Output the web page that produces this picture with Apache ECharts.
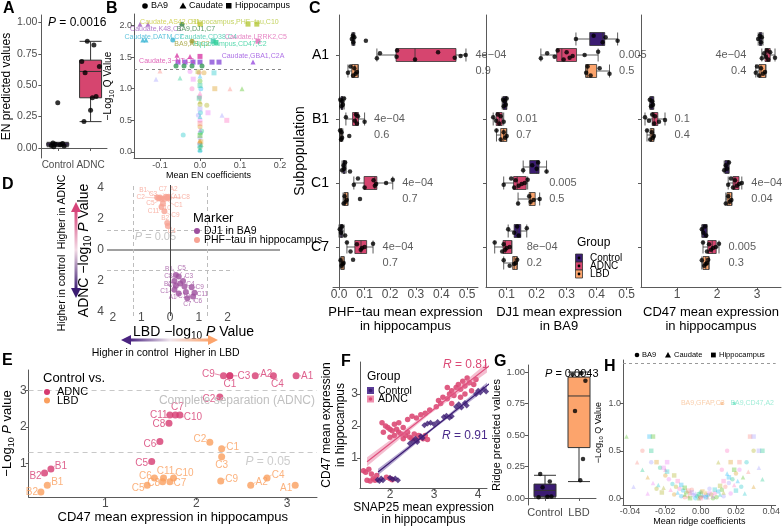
<!DOCTYPE html>
<html><head><meta charset="utf-8">
<script src="https://cdn.jsdelivr.net/npm/echarts@6.0.0/dist/echarts.min.js"></script>
<style>html,body{margin:0;padding:0;background:#fff;}#c{width:783px;height:527px;}</style>
</head><body><div id="c"></div>
<script>
// ================= DATA =================
// Panel A
const aCats = ['Control', 'ADNC'];
const aControlBox = [0.01, 0.018, 0.03, 0.04, 0.045];
const aAdncBox = [0.21, 0.40, 0.61, 0.70, 0.85];
const aControlPts = [0.36, 0.04, 0.035, 0.03, 0.025, 0.02, 0.015, 0.01];
const aAdncPts = [0.85, 0.82, 0.69, 0.65, 0.60, 0.41, 0.40, 0.30, 0.21];
const aPText = '0.0016';

// Panel B (labelled points above threshold)
const bTopTissue = ['Caudate','Caudate','BA9','Hippocampus','Hippocampus','Hippocampus','Caudate','Caudate','BA9','Hippocampus','Hippocampus','BA9','Hippocampus','Caudate','Caudate','Hippocampus','Caudate','Hippocampus','Hippocampus','Hippocampus','Hippocampus','Hippocampus','Hippocampus','BA9','BA9','BA9','BA9'];
const bTopX = [-0.150,-0.130,-0.045,0.000,0.120,0.142,-0.143,-0.135,-0.068,0.033,0.145,-0.020,0.040,-0.0575,-0.025,0.000,0.1325,-0.055,-0.0375,-0.0175,0.000,0.030,0.0475,-0.060,-0.040,-0.020,0.005];
const bTopY = [2.02,2.02,2.02,2.02,2.02,2.02,1.77,1.77,1.77,1.75,1.75,1.75,1.73,1.53,1.51,1.51,1.42,1.42,1.42,1.42,1.42,1.42,1.42,1.36,1.36,1.36,1.36];
const bTopLabel = ['Caudate,K48,C1','Caudate,AS42,C11','BA9,DJ1,C7','','Hippocampus,PHF\u2212tau,C10','','Caudate,DATM,C7','','','Caudate,CD38,C4','Caudate,LRRK2,C5','BA9,AS,C2','Hippocampus,CD47,C2','Caudate,3\u2212NT,C1','','','Caudate,GBA1,C2A','','','','','','','','','',''];
// Panel B (faint cloud)
const bCloudBA9 = [[-0.002,1.25],[0.0,1.12],[0.002,1.0],[-0.001,0.87],[0.0,0.75],[0.001,0.62],[0.0,0.5],[0.0,0.4],[0.001,0.3],[0.0,0.22],[-0.001,0.14],[0.0,0.07],[0.0,0.02],[-0.02,1.0],[0.017,0.74],[-0.042,0.27],[-0.025,1.27],[0.01,1.25],[0.004,0.33],[-0.004,0.58]];
const bCloudCaudate = [[-0.05,1.17],[-0.11,1.15],[0.075,1.0],[0.105,1.0],[0.0,1.2],[0.0,0.93],[0.0,0.8],[0.0,0.56],[0.0,0.35],[0.0,0.18],[0.0,0.04],[0.055,0.58],[-0.1,1.28],[0.003,0.12]];
const bCloudHippo = [[-0.017,1.15],[0.037,1.0],[0.0,1.05],[0.0,0.68],[0.0,0.45],[0.0,0.26],[0.0,0.1],[0.067,0.5],[-0.005,1.27],[0.035,1.25],[0.02,0.62],[0.002,0.16],[-0.002,0.85]];
const bThreshold = 1.3;

// Panel C
const cSubpops = ['A1','B1','C1','C7'];
const cGroups = ['Control','ADNC','LBD'];
// PHF-tau in hippocampus
const phfControlBox = [[0.05,0.053,0.056,0.06,0.062],[0.002,0.008,0.012,0.015,0.02],[0.012,0.016,0.02,0.024,0.028],[0.0,0.005,0.01,0.014,0.02]];
const phfAdncBox = [[0.148,0.223,0.297,0.457,0.496],[0.027,0.053,0.065,0.076,0.1],[0.058,0.098,0.14,0.148,0.21],[0.031,0.062,0.086,0.108,0.133]];
const phfLbdBox = [[0.035,0.05,0.062,0.075,0.075],[0.002,0.006,0.01,0.012,0.015],[0.016,0.02,0.025,0.035,0.035],[0.005,0.008,0.012,0.02,0.02]];
const phfControlPts = [[0.05,0.054,0.056,0.06,0.105],[0.005,0.01,0.012,0.015,0.02],[0.012,0.018,0.02,0.024,0.043],[0.003,0.008,0.012,0.024]];
const phfAdncPts = [[0.148,0.16,0.225,0.227,0.297,0.387,0.452,0.475,0.495],[0.027,0.062,0.066,0.07,0.074,0.1],[0.058,0.074,0.1,0.135,0.14,0.145,0.184,0.21],[0.031,0.045,0.07,0.085,0.09,0.1,0.133]];
const phfLbdPts = [[0.035,0.045,0.055,0.06,0.065,0.07],[0.004,0.008,0.01,0.012,0.04],[0.018,0.022,0.026,0.03,0.082],[0.006,0.01,0.014,0.018,0.055]];
const phfPAdnc = ['4e\u221204','4e\u221204','4e\u221204','4e\u221204'];
const phfPLbd = ['0.9','0.6','0.7','0.7'];
// DJ1 in BA9
const dj1ControlBox = [[0.331,0.377,0.42,0.427,0.47],[0.085,0.088,0.093,0.1,0.1],[0.155,0.177,0.2,0.208,0.233],[0.105,0.125,0.135,0.147,0.167]];
const dj1AdncBox = [[0.214,0.267,0.284,0.333,0.405],[0.055,0.065,0.075,0.085,0.09],[0.09,0.123,0.135,0.165,0.17],[0.06,0.088,0.095,0.117,0.117]];
const dj1LbdBox = [[0.364,0.364,0.37,0.4,0.443],[0.066,0.08,0.09,0.1,0.1],[0.138,0.175,0.18,0.195,0.21],[0.09,0.12,0.125,0.135,0.135]];
const dj1ControlPts = [[0.331,0.39,0.42,0.43,0.47],[0.088,0.09,0.093,0.097,0.1],[0.155,0.185,0.2,0.205,0.233],[0.105,0.125,0.135,0.14,0.167]];
const dj1AdncPts = [[0.214,0.235,0.26,0.27,0.29,0.3,0.31,0.32,0.36,0.405],[0.055,0.065,0.07,0.075,0.08,0.09],[0.09,0.115,0.125,0.13,0.14,0.15,0.16,0.17],[0.06,0.085,0.09,0.095,0.1,0.11]];
const dj1LbdPts = [[0.365,0.37,0.38,0.41,0.443],[0.066,0.08,0.09,0.095,0.1],[0.138,0.175,0.18,0.19,0.21],[0.09,0.11,0.125,0.13,0.135]];
const dj1PAdnc = ['0.005','0.01','0.005','8e\u221204'];
const dj1PLbd = ['0.5','0.7','0.5','0.2'];
// CD47 in hippocampus
const cd47ControlBox = [[3.03,3.06,3.08,3.12,3.15],[0.32,0.33,0.37,0.41,0.42],[2.18,2.2,2.25,2.3,2.3],[1.62,1.63,1.68,1.75,1.75]];
const cd47AdncBox = [[3.12,3.2,3.25,3.33,3.45],[0.2,0.38,0.43,0.52,0.7],[2.28,2.4,2.45,2.55,2.62],[1.65,1.77,1.88,1.98,2.05]];
const cd47LbdBox = [[2.97,3.05,3.1,3.22,3.22],[0.25,0.33,0.37,0.42,0.42],[2.22,2.25,2.3,2.37,2.37],[1.62,1.65,1.72,1.8,1.8]];
const cd47ControlPts = [[3.03,3.07,3.1,3.12],[0.32,0.35,0.38,0.4],[2.18,2.22,2.25,2.3],[1.62,1.66,1.7,1.73]];
const cd47AdncPts = [[3.12,3.18,3.22,3.25,3.28,3.33,3.45],[0.2,0.3,0.38,0.43,0.45,0.55,0.7],[2.28,2.35,2.4,2.45,2.5,2.55,2.62],[1.65,1.75,1.8,1.85,1.9,1.97,2.05]];
const cd47LbdPts = [[2.97,3.0,3.05,3.1,3.15,3.2],[0.25,0.33,0.37,0.4,0.42],[2.22,2.28,2.32,2.36],[1.62,1.68,1.72,1.75,1.78]];
const cd47PAdnc = ['4e\u221204','0.1','4e\u221204','0.005'];
const cd47PLbd = ['0.4','0.4','0.04','0.3'];

// Panel D (x: LBD signed -log10 P, y: ADNC signed -log10 P)
const dPhfNames = ['B1','C3','C2','C5','C11','C7','A2','A1','C8','C1','C10','C9','B2','C4'];
const dPhfX = [-0.45,-0.35,-0.4,-0.3,-0.3,-0.15,-0.05,-0.1,-0.05,-0.2,-0.25,-0.2,-0.1,-0.08];
const dPhfY = [3.4,3.4,3.35,3.3,2.8,3.45,3.45,3.4,3.35,3.3,3.0,2.5,1.75,1.55];
const dDj1Names = ['B1','C5','C8','C3','C2','B2','C4','C9','C1','C11','C10','A1','C7','C6'];
const dDj1X = [0.2,0.3,0.15,0.45,0.35,0.2,0.5,0.75,0.15,0.85,0.55,0.3,0.6,0.8];
const dDj1Y = [-1.6,-1.7,-2.0,-2.0,-2.15,-2.3,-2.35,-2.4,-2.55,-2.75,-2.7,-2.8,-3.1,-3.0];
const dThreshold = 1.3;

// Panel E
const eAdncNames = ['C9','C1','C3','A2','C4','A1','C2','C7','C11','C10','C8','C6','C5','B1','B2'];
const eAdncX = [2.3,2.37,2.37,2.65,2.85,3.1,2.26,1.77,1.71,1.82,1.7,1.6,1.51,0.4,0.33];
const eAdncY = [3.4,3.4,3.4,3.4,3.4,3.4,2.82,2.33,2.33,2.33,2.1,1.6,1.05,0.85,0.74];
const eLbdNames = ['C2','C1','C3','C9','C4','A2','A1','C6','C11','C10','C8','C7','C5','B1','B2'];
const eLbdX = [2.15,2.28,2.28,2.27,2.78,2.6,3.09,1.54,1.64,1.75,1.63,1.71,1.46,0.36,0.29];
const eLbdY = [1.58,1.4,1.18,0.52,0.6,0.4,0.4,0.6,0.6,0.6,0.5,0.5,0.4,0.4,0.22];
const eCompleteSep = 3.0;
const eThreshold = 1.3;

// Panel F
const fControl = [[1.72,0.32],[1.76,0.28],[1.8,0.36],[1.84,0.3],[2.0,0.38],[2.06,0.33],[2.12,0.36],[2.18,0.3],[2.45,1.45],[2.52,1.52],[2.58,1.6],[2.62,1.5],[2.7,1.68],[2.74,1.62],[2.78,2.02],[2.85,2.08],[2.92,2.1],[3.0,2.05],[3.08,2.12],[3.22,2.28],[3.28,2.32],[3.35,2.26],[3.4,2.3],[3.5,2.6],[3.56,2.68],[3.62,2.58],[3.7,2.72],[3.74,2.64],[3.95,3.0],[4.0,3.1],[4.05,3.05],[4.12,3.15],[4.18,3.08]];
const fAdnc = [[1.4,0.6],[1.45,0.55],[1.52,0.65],[1.58,0.5],[1.62,0.35],[1.66,0.3],[1.55,0.28],[1.7,0.45],[1.48,0.3],[2.0,0.36],[2.05,0.32],[1.92,0.4],[1.82,2.1],[1.9,2.0],[1.95,1.95],[2.0,1.9],[2.05,1.85],[2.1,2.05],[2.15,1.9],[2.2,1.8],[2.25,1.75],[2.3,1.95],[2.35,1.7],[2.4,1.8],[2.45,1.65],[2.5,1.6],[2.55,1.75],[2.6,1.55],[2.65,1.7],[2.7,1.65],[2.75,1.6],[2.8,1.7],[2.85,1.58],[2.2,2.1],[2.4,2.2],[2.5,2.3],[2.6,2.25],[2.7,2.35],[2.8,2.4],[2.9,2.5],[1.85,1.8],[2.0,1.65],[2.1,1.7],[2.3,1.6],[3.05,2.6],[3.1,2.8],[3.15,2.7],[3.2,2.9],[3.3,2.85],[3.35,3.0],[3.4,3.1],[3.45,2.95],[3.5,3.2],[3.55,3.3],[3.6,3.15],[3.65,3.4],[3.7,3.25],[3.75,3.5],[3.8,3.35],[3.85,3.1],[3.9,3.3],[3.95,3.45],[3.3,3.2],[3.4,2.7],[3.6,2.9],[3.7,3.0]];
const fAdncFitX = [1.48, 2.9, 4.27];
const fAdncFit = [0.88, 2.42, 3.9];
const fAdncLo = [0.74, 2.37, 3.74];
const fAdncHi = [1.02, 2.47, 4.06];
const fCtrlFitX = [1.73, 3.0, 4.27];
const fCtrlFit = [0.56, 1.95, 3.34];
const fCtrlLo = [0.46, 1.91, 3.24];
const fCtrlHi = [0.66, 1.99, 3.44];
const fRAdnc = '0.81';
const fRCtrl = '0.91';

// Panel G
const gCats = ['Control', 'LBD'];
const gControlBox = [0.0, 0.01, 0.06, 0.11, 0.18];
const gLbdBox = [0.13, 0.40, 0.81, 0.96, 1.0];
const gControlPts = [0.19, 0.13, 0.085, 0.01, 0.005, 0.012];
const gLbdPts = [0.99, 0.98, 0.93, 0.69, 0.31, 0.14];
const gPText = '0.0043';

// Panel H
const hBA9 = [[-0.033,0.5],[-0.028,0.38],[-0.023,0.32],[-0.02,0.24],[-0.018,0.2],[-0.016,0.15],[-0.014,0.12],[-0.012,0.1],[-0.01,0.08],[-0.008,0.06],[-0.006,0.05],[-0.004,0.03],[-0.002,0.02],[0.0,0.01],[0.002,0.02],[0.004,0.03],[0.006,0.04],[0.008,0.05],[0.01,0.07],[0.012,0.09],[0.014,0.12],[0.016,0.16],[0.018,0.2],[0.02,0.26],[0.022,0.3],[0.026,0.38],[0.03,0.5],[0.015,0.5],[-0.011,0.02],[0.009,0.01],[-0.005,0.09],[0.005,0.1],[0.0,0.06],[-0.015,0.04],[0.017,0.05],[0.023,0.12],[-0.025,0.1],[0.012,0.3],[-0.003,0.0],[0.007,0.0],[-0.009,0.01],[0.013,0.02]];
const hCaudate = [[-0.042,0.65],[-0.036,0.38],[-0.038,0.12],[-0.033,0.3],[-0.03,0.22],[-0.027,0.16],[-0.024,0.14],[-0.021,0.11],[-0.017,0.09],[-0.013,0.06],[-0.009,0.04],[-0.007,0.02],[-0.003,0.05],[0.001,0.03],[0.003,0.06],[0.007,0.02],[0.011,0.04],[0.013,0.06],[0.019,0.14],[0.021,0.18],[0.024,0.22],[0.027,0.28],[0.033,0.32],[0.035,0.2],[0.03,0.12],[-0.03,0.05],[0.025,0.05],[0.01,0.38],[-0.02,0.3],[0.015,0.26],[-0.001,0.0],[0.004,0.01]];
const hHippo = [[-0.029,0.65],[-0.027,0.65],[0.028,0.65],[0.03,0.65],[-0.028,0.5],[-0.025,0.38],[-0.021,0.32],[-0.019,0.28],[-0.015,0.24],[-0.013,0.18],[-0.011,0.14],[-0.009,0.11],[-0.007,0.08],[-0.005,0.06],[-0.001,0.04],[0.001,0.07],[0.005,0.05],[0.008,0.09],[0.011,0.13],[0.013,0.18],[0.016,0.22],[0.019,0.3],[0.022,0.38],[0.033,0.5],[0.035,0.5],[0.017,0.38],[-0.019,0.38],[0.02,0.08],[-0.022,0.06],[0.0,0.0],[0.003,0.01],[-0.006,0.0]];
const hLabNames = ['BA9,GFAP,C3', 'BA9,CD47,A2'];
const hLabX = [0.012, 0.019];
const hLabY = [1.0, 1.0];
const hThreshold = 1.42;

// ================= STYLE =================
const FF = "'Liberation Sans', Arial, Helvetica, sans-serif";
const C_CTRL = '#3b1c72', C_ADNC = '#d6456f', C_LBD = '#fca46c';
const AXC = '#5a5a5a', TXC = '#4d4d4d';
const CLEAR = 'rgba(0,0,0,0)';
const PAL = ['#f8766d','#d89000','#a3a500','#39b600','#00bf7d','#00bfc4','#00b0f6','#9590ff','#e76bf3','#ff62bc'];
const JIT = [0,-3,3,-1.5,1.5,-4,4,-2.5,2.5,0.8];
const SYM = {BA9:'circle', Caudate:'triangle', Hippocampus:'rect'};
const bTopPtColor = ['#a25bbf','#a25bbf','#2f7f3f','#c7c93c','#b5c83a','#b5c83a','#36b4d3','#36b4d3','#36b4d3','#3cc9ad','#e066b5','#9c9a2a','#2fcf9a','#d83ca6','#d83ca6','#d83ca6','#9a4ee0','#9a4ee0','#8a4fd8','#8a4fd8','#8a4fd8','#8a4fd8','#8a4fd8','#3a9a5a','#3a9a5a','#3a9a5a','#3a9a5a'];
const bTopLabColor = {0:'#a25bbf',1:'#c9c93a',2:'#2f7f3f',4:'#b5c83a',6:'#36b4d3',9:'#3cc9ad',10:'#e066b5',11:'#9c9a2a',12:'#2fcf9a',13:'#d83ca6',16:'#9a4ee0'};
const bTopLabOff = {0:[16,5],1:[22,-2],2:[14,5],4:[-13,-2],6:[11,-3],9:[-5,-4],10:[-2,-4],11:[0,3],12:[14,2],13:[-10,6],16:[0,-6]};
const dPhfOff = [[-14,-7],[-7,-3],[-18,-1],[-11,4],[-8,4],[-3,-7],[5,-7],[10,0],[17,-1],[14,6],[2,5],[11,4],[-2,-5],[4,5]];
const dDj1Off = [[-7,-6],[3,-8],[-6,-5],[6,-5],[-8,2],[-8,-2],[6,-2],[8,0],[-10,2],[8,1],[-2,4],[-6,4],[0,6],[5,5]];
const eAdncOff = [[-15,-2],[0,8],[14,0],[11,-2],[4,8],[11,0],[-11,2],[2,-8],[-11,0],[13,2],[-10,1],[-10,3],[-10,2],[10,-3],[-9,3]];
const eLbdOff = [[-10,-3],[11,-2],[0,8],[11,-2],[11,-3],[11,-3],[-9,3],[-9,-2],[2,-7],[11,-5],[-9,2],[10,2],[-9,3],[10,-3],[-9,0]];

function rt(fs, color) {
  return { t:{fontSize:fs, fontFamily:FF, color:color||'#000'},
           s:{fontSize:Math.round(fs*0.72), fontFamily:FF, color:color||'#000', verticalAlign:'bottom', padding:[0,0,-2,0]},
           i:{fontSize:fs, fontFamily:FF, color:color||'#000', fontStyle:'italic'} };
}
function vAxis(g, min, max, vals, fmt, fs, margin, more) {
  return Object.assign({
    type:'value', gridIndex:g, min:min, max:max,
    axisLine:{show:true, onZero:false, lineStyle:{color:AXC, width:1}},
    axisTick:{show:true, customValues:vals, length:3, lineStyle:{color:AXC}},
    axisLabel:{show:true, customValues:vals, formatter:fmt, color:TXC, fontFamily:FF, fontSize:fs, margin:margin},
    splitLine:{show:false}
  }, more || {});
}
const f1 = v => v.toFixed(1), f2 = v => v.toFixed(2), f0 = v => String(v), fabs = v => String(Math.abs(v));

// ================= GRIDS & AXES =================
const grid = [
  {left:39, top:15, width:68, height:143},    // 0 A
  {left:134, top:14, width:149, height:144},  // 1 B
  {left:333, top:15, width:145, height:272},  // 2 C1
  {left:486, top:15, width:146, height:272},  // 3 C2
  {left:641, top:15, width:140, height:272},  // 4 C3
  {left:107, top:185, width:173, height:131}, // 5 D
  {left:28, top:370, width:289, height:127},  // 6 E
  {left:360, top:362, width:127, height:126}, // 7 F
  {left:528, top:365, width:68, height:140},  // 8 G
  {left:623, top:360, width:157, height:147}  // 9 H
];
const catAxisBase = (g, data, fs) => ({
  type:'category', gridIndex:g, data:data, boundaryGap:true,
  axisLine:{show:true, lineStyle:{color:AXC}},
  axisTick:{show:true, alignWithLabel:true, length:3, lineStyle:{color:AXC}},
  axisLabel:{color:TXC, fontFamily:FF, fontSize:fs, margin:2, interval:0, hideOverlap:false},
  splitLine:{show:false}
});
// C category axis with spacer rows
const cCats = [];
cCats.push('pad0');
cSubpops.forEach((s, si) => {
  cGroups.forEach(gr => cCats.push(s + '_' + gr));
  if (si < cSubpops.length - 1) cCats.push('gap' + si);
});
cCats.push('padEnd');
const cIdx = (s, g) => 1 + s * 4 + g;
function cYAxis(g, showLabels) {
  return {
    type:'category', gridIndex:g, data:cCats, inverse:true, boundaryGap:true,
    axisLine:{show:true, lineStyle:{color:AXC}},
    axisTick:{show:true, alignWithLabel:true, length:3, lineStyle:{color:AXC}, interval:(i) => (i % 4 === 2)},
    axisLabel:{show:showLabels, interval:0, color:'#000', fontFamily:FF, fontSize:14, margin:4,
      formatter:(v) => v.endsWith('_ADNC') ? v.split('_')[0] : ''},
    name: showLabels ? 'Subpopulation' : '', nameLocation:'middle', nameGap:21,
    nameTextStyle:{fontFamily:FF, fontSize:14, color:'#000'},
    splitLine:{show:false}
  };
}

const xAxis = [
  catAxisBase(0, aCats, 10),
  vAxis(1, -0.165, 0.2075, [-0.1,0,0.1,0.2], f1, 9, 3,
    {name:'Mean EN coefficients', nameLocation:'middle', nameGap:11, nameTextStyle:{fontFamily:FF, fontSize:9, color:'#000'}}),
  vAxis(2, -0.0234, 0.543, [0,0.1,0.2,0.3,0.4,0.5], f1, 12, 2,
    {name:'PHF\u2212tau mean expression\nin hippocampus', nameLocation:'middle', nameGap:14, nameTextStyle:{fontFamily:FF, fontSize:13, color:'#000', lineHeight:14}}),
  vAxis(3, 0.031, 0.518, [0.1,0.2,0.3,0.4,0.5], f1, 12, 2,
    {name:'DJ1 mean expression\nin BA9', nameLocation:'middle', nameGap:14, nameTextStyle:{fontFamily:FF, fontSize:13, color:'#000', lineHeight:14}}),
  vAxis(4, 0.1, 3.6, [1,2,3], f0, 12, 2,
    {name:'CD47 mean expression\nin hippocampus', nameLocation:'middle', nameGap:14, nameTextStyle:{fontFamily:FF, fontSize:13, color:'#000', lineHeight:14}}),
  vAxis(5, -2.2, 3.83, [-2,-1,0,1,2], fabs, 12, -4,
    {axisLine:{show:false}, axisTick:{show:false},
     name:'{t|LBD \u2212log}{s|10}{t| }{i|P}{t| Value}', nameLocation:'middle', nameGap:8,
     nameTextStyle:{fontFamily:FF, fontSize:14, color:'#000', rich:rt(14)}}),
  vAxis(6, 0.154, 3.33, [1,2,3], f0, 12, 1,
    {name:'CD47 mean expression in hippocampus', nameLocation:'middle', nameGap:13, nameTextStyle:{fontFamily:FF, fontSize:13, color:'#000'}}),
  vAxis(7, 1.32, 4.2, [2,3,4], f0, 12, 1,
    {name:'SNAP25 mean expression\nin hippocampus', nameLocation:'middle', nameGap:13, nameTextStyle:{fontFamily:FF, fontSize:12, color:'#000', lineHeight:12}}),
  catAxisBase(8, gCats, 11),
  vAxis(9, -0.044, 0.0425, [-0.04,-0.02,0,0.02,0.04], f2, 9, 2,
    {name:'Mean ridge coefficients', nameLocation:'middle', nameGap:11, nameTextStyle:{fontFamily:FF, fontSize:9, color:'#000'}})
];
const yAxis = [
  vAxis(0, -0.08, 1.06, [0,0.25,0.5,0.75,1], f2, 10.5, 4,
    {name:'EN predicted values', nameLocation:'middle', nameGap:21, nameTextStyle:{fontFamily:FF, fontSize:12, color:'#000'}}),
  vAxis(1, -0.095, 2.18, [0,0.5,1,1.5,2], f1, 9, 2,
    {name:'{t|\u2212Log}{s|10}{t| Q Value}', nameLocation:'middle', nameGap:14, nameTextStyle:{fontFamily:FF, fontSize:10, color:'#000', rich:rt(10)}}),
  cYAxis(2, true),
  cYAxis(3, false),
  cYAxis(4, false),
  vAxis(5, -4.25, 4.2, [-4,-2,0,2,4], fabs, 12, 3,
    {axisLine:{show:false}, axisTick:{show:false},
     name:'{t|ADNC \u2212log}{s|10}{t| }{i|P}{t| Value}', nameLocation:'middle', nameGap:12,
     nameTextStyle:{fontFamily:FF, fontSize:14, color:'#000', rich:rt(14)}}),
  vAxis(6, 0.08, 3.56, [1,2,3], f0, 12, 2,
    {name:'{t|\u2212Log}{s|10}{t| }{i|P}{t| value}', nameLocation:'middle', nameGap:10,
     nameTextStyle:{fontFamily:FF, fontSize:13, color:'#000', rich:rt(13)}}),
  vAxis(7, 0.06, 4.0, [1,2,3], f0, 12, 2,
    {name:'CD47 mean expression\nin hippocampus', nameLocation:'middle', nameGap:7, nameTextStyle:{fontFamily:FF, fontSize:12, color:'#000', lineHeight:14}}),
  vAxis(8, -0.056, 1.056, [0,0.25,0.5,0.75,1], f2, 9.5, 3,
    {name:'Ridge predicted values', nameLocation:'middle', nameGap:20, nameTextStyle:{fontFamily:FF, fontSize:11, color:'#000'}}),
  vAxis(9, -0.073, 1.458, [0,0.5,1], f1, 9, 2,
    {name:'{t|\u2212Log}{s|10}{t| Q Value}', nameLocation:'middle', nameGap:11, nameTextStyle:{fontFamily:FF, fontSize:9, color:'#000', rich:rt(9)}})
];

// ================= SERIES =================
const series = [];
const noEmph = {disabled:true};
// ---- A
series.push({type:'boxplot', xAxisIndex:0, yAxisIndex:0, boxWidth:[22,22], emphasis:noEmph,
  itemStyle:{borderColor:'#333', borderWidth:1},
  data:[{value:aControlBox, itemStyle:{color:C_CTRL}}, {value:aAdncBox, itemStyle:{color:C_ADNC}}]});
series.push({type:'scatter', xAxisIndex:0, yAxisIndex:0, symbolSize:5, itemStyle:{color:'#000'}, emphasis:noEmph, z:5,
  data: aControlPts.map((v,i) => ({value:[0,v], symbolOffset:[JIT[i%10]*1.6,0]}))
    .concat(aAdncPts.map((v,i) => ({value:[1,v], symbolOffset:[JIT[(i+3)%10]*2.2,0]})))});

// ---- B cloud
[['BA9', bCloudBA9], ['Caudate', bCloudCaudate], ['Hippocampus', bCloudHippo]].forEach(([t, arr], k) => {
  series.push({type:'scatter', xAxisIndex:1, yAxisIndex:1, symbol:SYM[t], symbolSize:5, emphasis:noEmph,
    data: arr.map((p, i) => ({value:p, itemStyle:{color:PAL[(i*3 + k*4) % PAL.length], opacity:0.35}}))});
});
series.push({type:'scatter', xAxisIndex:1, yAxisIndex:1, symbolSize:5, emphasis:noEmph, z:4,
  data: bTopX.map((x, i) => ({value:[x, bTopY[i]], symbol:SYM[bTopTissue[i]], itemStyle:{color:bTopPtColor[i]},
    label:{show: bTopLabel[i] !== '', formatter: bTopLabel[i], position:'inside', color: bTopLabColor[i] || '#000', fontSize:7, fontFamily:FF}})),
  labelLayout: (p) => { const o = bTopLabOff[p.dataIndex] || [0,0]; return {dx:o[0], dy:o[1]}; },
  markLine:{silent:true, symbol:'none', label:{show:false}, lineStyle:{color:'#888', type:[3,3], width:1},
    data:[{yAxis:bThreshold}]}});

// ---- C
function buildC(g, boxes, pts, pA, pL, leftAbove) {
  const boxData = cCats.map(() => ({value:['-','-','-','-','-']}));
  const cols = [C_CTRL, C_ADNC, C_LBD];
  const dots = [];
  for (let s = 0; s < cSubpops.length; s++) {
    for (let gi = 0; gi < 3; gi++) {
      const idx = cIdx(s, gi);
      boxData[idx] = {value: boxes[gi][s], itemStyle:{color:cols[gi]}};
      pts[gi][s].forEach((v, i) => dots.push({value:[v, idx], symbolOffset:[0, JIT[(i + gi*2 + s) % 10] * 1.1]}));
    }
  }
  series.push({type:'boxplot', xAxisIndex:g, yAxisIndex:g, layout:'horizontal', boxWidth:[13,13], emphasis:noEmph,
    itemStyle:{borderColor:'#333', borderWidth:0.8}, data:boxData});
  series.push({type:'scatter', xAxisIndex:g, yAxisIndex:g, symbolSize:4.5, itemStyle:{color:'#000'}, emphasis:noEmph, z:5, data:dots});
  const labs = [];
  for (let s = 0; s < cSubpops.length; s++) {
    const vals = pts[1][s].concat(pts[2][s], boxes[1][s], boxes[2][s]);
    const mx = Math.max.apply(null, vals), mn = Math.min.apply(null, vals);
    const left = mx > leftAbove;
    const ax = left ? mn : mx;
    const pos = left ? 'left' : 'right';
    labs.push({value:[ax, cIdx(s,1)], label:{formatter:pA[s], position:pos}});
    labs.push({value:[ax, cIdx(s,2)], label:{formatter:pL[s], position:pos}});
  }
  series.push({type:'scatter', xAxisIndex:g, yAxisIndex:g, symbolSize:1, itemStyle:{color:CLEAR}, emphasis:noEmph, z:6,
    label:{show:true, distance:9, color:'#333', fontFamily:FF, fontSize:11}, data:labs});
}
buildC(2, [phfControlBox, phfAdncBox, phfLbdBox], [phfControlPts, phfAdncPts, phfLbdPts], phfPAdnc, phfPLbd, Infinity);
buildC(3, [dj1ControlBox, dj1AdncBox, dj1LbdBox], [dj1ControlPts, dj1AdncPts, dj1LbdPts], dj1PAdnc, dj1PLbd, Infinity);
buildC(4, [cd47ControlBox, cd47AdncBox, cd47LbdBox], [cd47ControlPts, cd47AdncPts, cd47LbdPts], cd47PAdnc, cd47PLbd, 3.0);

// ---- D
const D_PHF = '#f7a394', D_DJ1 = '#9d4f9e';
series.push({type:'scatter', xAxisIndex:5, yAxisIndex:5, symbolSize:0, emphasis:noEmph, data:[],
  markLine:{silent:true, symbol:'none', label:{show:false}, animation:false,
    data:[
      {yAxis:0, lineStyle:{color:'#a0a0a0', width:2, type:'solid'}},
      {xAxis:-dThreshold, lineStyle:{color:'#bdbdbd', width:1, type:[4,3]}},
      {xAxis:dThreshold, lineStyle:{color:'#bdbdbd', width:1, type:[4,3]}},
      [{coord:[-2.2, dThreshold], lineStyle:{color:'#bdbdbd', width:1, type:[4,3]}}, {coord:[2.2, dThreshold]}],
      [{coord:[-2.2, -dThreshold], lineStyle:{color:'#bdbdbd', width:1, type:[4,3]}}, {coord:[2.2, -dThreshold]}],
      {xAxis:0, lineStyle:{color:'#444', width:1, type:'solid'}}
    ]}});
series.push({type:'scatter', xAxisIndex:5, yAxisIndex:5, symbolSize:1, emphasis:noEmph, itemStyle:{color:CLEAR},
  label:{show:true, position:'right', distance:0, formatter:'{i|P} = 0.05', color:'#b5b5b5', fontFamily:FF, fontSize:11,
    rich:{i:{fontStyle:'italic', color:'#b5b5b5', fontFamily:FF, fontSize:11}}},
  data:[[-1.25, 0.85]]});
function labScatter(g, xs, ys, names, offs, color, fs, size, lineW) {
  return {type:'scatter', xAxisIndex:g, yAxisIndex:g, symbolSize:size, itemStyle:{color:color}, emphasis:noEmph, z:4,
    data: xs.map((x, i) => ({value:[x, ys[i]], name:names[i]})),
    label:{show:true, formatter:'{b}', position:'inside', color:color, fontFamily:FF, fontSize:fs},
    labelLine:{show:true, length2:0, lineStyle:{color:color, width:lineW}},
    labelLayout:(p) => { const o = offs[p.dataIndex]; return {dx:o[0], dy:o[1]}; }};
}
series.push(labScatter(5, dPhfX, dPhfY, dPhfNames, dPhfOff, D_PHF, 6.5, 6, 0.5));
series.push(labScatter(5, dDj1X, dDj1Y, dDj1Names, dDj1Off, D_DJ1, 6.5, 6, 0.5));

// ---- E
const E_ADNC = '#d63a70', E_LBD = '#fa9f5e';
series.push({type:'scatter', xAxisIndex:6, yAxisIndex:6, symbolSize:0, emphasis:noEmph, data:[],
  markLine:{silent:true, symbol:'none', animation:false, lineStyle:{color:'#c8c8c8', width:1, type:[5,4]},
    label:{show:true, position:'insideEndBottom', color:'#c0c0c0', fontFamily:FF, fontSize:12, distance:[2,4]},
    data:[{yAxis:eCompleteSep, label:{formatter:'Complete separation (ADNC)'}}, {yAxis:eThreshold, label:{show:false}}]}});
series.push({type:'scatter', xAxisIndex:6, yAxisIndex:6, symbolSize:1, emphasis:noEmph, itemStyle:{color:CLEAR},
  label:{show:true, position:'bottom', distance:3, formatter:'{i|P} = 0.05', color:'#c0c0c0', fontFamily:FF, fontSize:12,
    rich:{i:{fontStyle:'italic', color:'#c0c0c0', fontFamily:FF, fontSize:12}}},
  data:[[2.79, eThreshold]]});
series.push(labScatter(6, eAdncX, eAdncY, eAdncNames, eAdncOff, E_ADNC, 10, 7, 0.6));
series.push(labScatter(6, eLbdX, eLbdY, eLbdNames, eLbdOff, E_LBD, 10, 7, 0.6));

// ---- F
function band(xs, lo, hi, fill) {
  return {type:'custom', xAxisIndex:7, yAxisIndex:7, clip:true, silent:true, z:3, data:[0],
    renderItem:(params, api) => {
      const top = xs.map((x, i) => api.coord([x, hi[i]]));
      const bot = xs.map((x, i) => api.coord([x, lo[i]])).reverse();
      return {type:'polygon', shape:{points:top.concat(bot)}, style:{fill:fill}};
    }};
}
series.push({type:'scatter', xAxisIndex:7, yAxisIndex:7, symbolSize:5.5, itemStyle:{color:'#dc4a76', opacity:0.9}, emphasis:noEmph, z:2, data:fAdnc});
series.push({type:'scatter', xAxisIndex:7, yAxisIndex:7, symbol:'diamond', symbolSize:6, itemStyle:{color:'#3b1c72'}, emphasis:noEmph, z:2, data:fControl});
series.push(band(fAdncFitX, fAdncLo, fAdncHi, 'rgba(230,110,150,0.45)'));
series.push(band(fCtrlFitX, fCtrlLo, fCtrlHi, 'rgba(90,60,150,0.45)'));
series.push({type:'line', xAxisIndex:7, yAxisIndex:7, symbol:'none', clip:true, z:4, lineStyle:{color:'#e0507e', width:1.2}, emphasis:noEmph,
  data: fAdncFitX.map((x, i) => [x, fAdncFit[i]])});
series.push({type:'line', xAxisIndex:7, yAxisIndex:7, symbol:'none', clip:true, z:4, lineStyle:{color:'#3b1c72', width:1.2}, emphasis:noEmph,
  data: fCtrlFitX.map((x, i) => [x, fCtrlFit[i]])});

// ---- G
series.push({type:'boxplot', xAxisIndex:8, yAxisIndex:8, boxWidth:[22,22], emphasis:noEmph,
  itemStyle:{borderColor:'#333', borderWidth:1},
  data:[{value:gControlBox, itemStyle:{color:C_CTRL}}, {value:gLbdBox, itemStyle:{color:C_LBD}}]});
series.push({type:'scatter', xAxisIndex:8, yAxisIndex:8, symbolSize:4.5, itemStyle:{color:'#000'}, emphasis:noEmph, z:5,
  data: gControlPts.map((v,i) => ({value:[0,v], symbolOffset:[JIT[(i+1)%10]*1.6,0]}))
    .concat(gLbdPts.map((v,i) => ({value:[1,v], symbolOffset:[JIT[(i+4)%10]*1.6,0]})))});

// ---- H
[['BA9', hBA9], ['Caudate', hCaudate], ['Hippocampus', hHippo]].forEach(([t, arr], k) => {
  series.push({type:'scatter', xAxisIndex:9, yAxisIndex:9, symbol:SYM[t], symbolSize:4.5, emphasis:noEmph,
    data: arr.map((p, i) => ({value:p, itemStyle:{color:PAL[(i*7 + k*3) % PAL.length], opacity:0.3}}))});
});
const hLabColor = ['#f5a05a', '#3fdcb0'];
const hLabOff = [[-19,0],[18,0]];
series.push({type:'scatter', xAxisIndex:9, yAxisIndex:9, symbol:'rect', symbolSize:3, emphasis:noEmph,
  data: hLabX.map((x, i) => ({value:[x, hLabY[i]], name:hLabNames[i], itemStyle:{color:hLabColor[i], opacity:0.5},
    label:{show:true, formatter:'{b}', position:'inside', color:hLabColor[i], fontSize:7, fontFamily:FF}})),
  labelLayout:(p) => { const o = hLabOff[p.dataIndex]; return {dx:o[0], dy:o[1]}; },
  markLine:{silent:true, symbol:'none', label:{show:false}, lineStyle:{color:'#999', type:[3,3], width:1}, data:[{yAxis:hThreshold}]}});

// ================= GRAPHIC (letters, legends, annotations) =================
const G = [];
function T(x, y, text, o) {
  G.push({type:'text', x:x, y:y, z:100, silent:true,
    style:Object.assign({text:text, fontFamily:FF, fontSize:11, fill:'#000', align:'left', verticalAlign:'middle'}, o || {})});
}
function TR(x, y, text, o) { // rotated (reading upwards)
  G.push({type:'text', x:x, y:y, rotation:Math.PI/2, z:100, silent:true,
    style:Object.assign({text:text, fontFamily:FF, fontSize:11, fill:'#000', align:'center', verticalAlign:'middle'}, o || {})});
}
function circ(x, y, r, fill) { G.push({type:'circle', shape:{cx:x, cy:y, r:r}, style:{fill:fill}, z:100, silent:true}); }
function rect(x, y, w, h, fill, stroke) { G.push({type:'rect', shape:{x:x, y:y, width:w, height:h}, style:{fill:fill, stroke:stroke || null, lineWidth:0.8}, z:100, silent:true}); }
function poly(pts, fill) { G.push({type:'polygon', shape:{points:pts}, style:{fill:fill}, z:100, silent:true}); }
function boxKey(x, y, fill) { rect(x - 3.5, y - 4, 7, 8, fill, '#333'); circ(x, y, 1.4, '#000'); }

// panel letters
[['A',3,9],['B',106,9],['C',309,9],['D',2,185],['E',2,361],['F',341,362],['G',494,362],['H',604,367]].forEach(([l,x,y]) =>
  T(x, y, l, {fontSize:16, fontWeight:'bold'}));
// P-values
const prich = (fs) => ({i:{fontStyle:'italic', fontFamily:FF, fontSize:fs, fill:'#000'}});
T(48, 23, '{i|P} = ' + aPText, {fontSize:12, rich:prich(12)});
T(545, 374, '{i|P} = ' + gPText, {fontSize:11, rich:prich(11)});
// B legend
circ(145, 6, 2.8, '#000'); T(151, 6, 'BA9', {fontSize:9});
poly([[183,2.5],[186.5,8.5],[179.5,8.5]], '#000'); T(189, 6, 'Caudate', {fontSize:9});
rect(226, 3, 5.5, 5.5, '#000'); T(235, 6, 'Hippocampus', {fontSize:9});
// H legend
circ(637, 355, 2.3, '#000'); T(642, 355, 'BA9', {fontSize:7.5});
poly([[668,352],[671,357.5],[665,357.5]], '#000'); T(674, 355, 'Caudate', {fontSize:7.5});
rect(711, 352.6, 4.8, 4.8, '#000'); T(719, 355, 'Hippocampus', {fontSize:7.5});
// C legend
T(577, 243, 'Group', {fontSize:12});
boxKey(579, 258, C_CTRL); T(590, 258, 'Control', {fontSize:10});
boxKey(579, 266, C_ADNC); T(590, 266, 'ADNC', {fontSize:10});
boxKey(579, 274, C_LBD); T(590, 274, 'LBD', {fontSize:10});
// D legend
T(193, 218, 'Marker', {fontSize:13});
circ(197, 231, 3, D_DJ1); T(204, 231, 'DJ1 in BA9', {fontSize:10.5});
circ(197, 240, 3, D_PHF); T(204, 240, 'PHF\u2212tau in hippocampus', {fontSize:10.5});
// D arrows
G.push({type:'rect', shape:{x:74.5, y:210, width:3, height:80}, z:99, silent:true,
  style:{fill:new echarts.graphic.LinearGradient(0,0,0,1,[{offset:0,color:'#d6457a'},{offset:0.5,color:'#f3dbe6'},{offset:1,color:C_CTRL}])}});
poly([[76,202],[81,212],[71,212]], '#d6457a');
poly([[76,298],[81,288],[71,288]], C_CTRL);
G.push({type:'rect', shape:{x:130, y:338.5, width:80, height:3}, z:99, silent:true,
  style:{fill:new echarts.graphic.LinearGradient(0,0,1,0,[{offset:0,color:'#4a2480'},{offset:0.5,color:'#f1e6ee'},{offset:1,color:C_LBD}])}});
poly([[121,340],[131,335],[131,345]], '#4a2480');
poly([[218,340],[208,335],[208,345]], C_LBD);
TR(62, 212, 'Higher in ADNC', {fontSize:10.5});
TR(62, 293, 'Higher in control', {fontSize:10.5});
T(130, 353, 'Higher in control', {fontSize:10.5, align:'center'});
T(207, 353, 'Higher in LBD', {fontSize:10.5, align:'center'});
// E legend
T(43, 378, 'Control vs.', {fontSize:13});
circ(47, 392, 3, E_ADNC); T(57, 392, 'ADNC', {fontSize:11});
circ(47, 400.5, 3, E_LBD); T(57, 400.5, 'LBD', {fontSize:11});
// F legend and R labels
T(367, 377, 'Group', {fontSize:12});
rect(367, 387, 7, 7, '#5a3c96'); circ(370.5, 390.5, 1.8, C_CTRL); T(378, 391, 'Control', {fontSize:10.5});
rect(367, 395.5, 7, 7, '#ef8fae'); circ(370.5, 399, 1.8, '#dc4a76'); T(378, 399.5, 'ADNC', {fontSize:10.5});
T(443, 365, '{i|R} = ' + fRAdnc, {fontSize:12, fill:'#dc4a76', rich:{i:{fontStyle:'italic', fontFamily:FF, fontSize:12, fill:'#dc4a76'}}});
T(442, 436, '{i|R} = ' + fRCtrl, {fontSize:12, fill:'#4a2a8a', rich:{i:{fontStyle:'italic', fontFamily:FF, fontSize:12, fill:'#4a2a8a'}}});

const chart = echarts.init(document.getElementById('c'), null, {renderer:'canvas'});
chart.setOption({
  animation:false, backgroundColor:'#fff',
  textStyle:{fontFamily:FF},
  grid:grid, xAxis:xAxis, yAxis:yAxis, series:series, graphic:G
});
</script></body></html>
